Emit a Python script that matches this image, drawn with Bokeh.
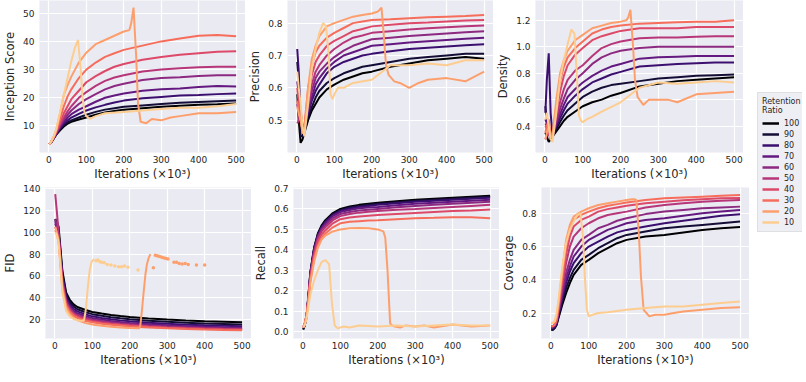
from bokeh.plotting import figure
from bokeh.layouts import row, column
from bokeh.models import Range1d, FixedTicker, PrintfTickFormatter, Legend, LegendItem
from bokeh.embed import file_html
from bokeh.resources import INLINE

# ---------------- data ----------------
RATIOS = ["100", "90", "80", "70", "60", "50", "40", "30", "20", "10"]
COLORS = ['#000003', '#140D35', '#3B0F6F', '#63197F', '#8C2980',
          '#B63679', '#DD4968', '#F66E5B', '#FD9F6C', '#FDCD90']
XTICKS = [0, 100, 200, 300, 400, 500]

XA = [1, 5, 10, 15, 20, 30, 40, 50, 60, 80, 100, 125, 150, 175, 200, 250, 300, 350, 400, 450, 500]
X20 = [1, 5, 10, 15, 20, 30, 40, 50, 60, 80, 100, 125, 150, 175, 200, 215, 220, 226, 233, 238,
       245, 260, 275, 300, 325, 350, 400, 450, 500]
X10 = [1, 5, 10, 15, 20, 30, 40, 50, 60, 70, 78, 85, 90, 95, 100, 110, 125, 150, 200, 250,
       300, 350, 400, 450, 500]

# Inception Score
IS_100 = [3.5, 4.0, 5.0, 6.0, 7.0, 8.5, 9.8, 10.8, 11.5, 12.3, 13.0, 14.0, 14.8, 15.3, 15.8, 16.3, 16.8, 17.2, 17.5, 17.7, 18.0]
IS_90 = [3.5, 4.0, 5.0, 6.0, 7.0, 8.8, 10.2, 11.3, 12.0, 13.0, 14.0, 15.0, 15.8, 16.3, 16.8, 17.3, 17.8, 18.2, 18.5, 18.8, 19.0]
IS_80 = [3.5, 4.0, 5.0, 6.1, 7.2, 9.2, 10.8, 12.0, 13.0, 14.3, 15.5, 16.6, 17.5, 18.3, 19.0, 19.8, 20.3, 20.8, 21.0, 21.3, 21.5]
IS_70 = [3.5, 4.0, 5.1, 6.2, 7.4, 9.6, 11.5, 13.0, 14.2, 15.8, 17.0, 18.6, 20.0, 20.8, 21.5, 22.5, 23.0, 23.3, 23.8, 24.2, 24.0]
IS_60 = [3.5, 4.0, 5.1, 6.3, 7.6, 10.0, 12.3, 14.0, 15.5, 17.8, 19.5, 21.3, 23.0, 24.2, 25.0, 26.3, 27.0, 27.3, 27.7, 28.0, 28.0]
IS_50 = [3.5, 4.0, 5.2, 6.4, 7.8, 10.5, 13.0, 15.2, 17.0, 20.0, 22.0, 24.2, 26.0, 27.2, 28.0, 29.3, 30.0, 30.5, 30.8, 31.0, 31.0]
IS_40 = [3.5, 4.0, 5.2, 6.5, 8.0, 11.2, 14.5, 17.0, 19.5, 22.5, 25.5, 27.7, 29.5, 31.0, 32.0, 33.5, 34.5, 35.3, 35.8, 36.3, 36.5]
IS_30 = [3.5, 4.1, 5.3, 6.7, 8.3, 12.5, 17.0, 20.5, 23.0, 27.0, 30.0, 32.5, 34.5, 35.8, 37.0, 38.5, 40.0, 41.0, 42.0, 42.3, 41.8]
IS_20 = [3.5, 4.1, 5.4, 6.8, 8.8, 14.5, 21.0, 24.5, 27.5, 32.5, 36.0, 39.0, 40.5, 42.0, 43.5, 44.0, 46.5, 52.0, 35.0, 18.0,
         11.5, 11.0, 12.5, 12.0, 13.0, 13.5, 14.5, 14.5, 15.0]
IS_10 = [3.5, 4.2, 5.5, 7.0, 9.0, 15.0, 21.0, 27.0, 33.0, 38.0, 40.5, 30.0, 20.0, 15.0, 13.5, 12.5, 13.5, 14.5, 15.0, 15.5,
         16.0, 16.5, 16.5, 17.0, 17.8]

# Precision
PR_100 = [0.58, 0.50, 0.43, 0.44, 0.46, 0.50, 0.53, 0.55, 0.57, 0.595, 0.61, 0.625, 0.635, 0.645, 0.65, 0.665, 0.675, 0.685, 0.69, 0.695, 0.69]
PR_90 = [0.68, 0.62, 0.45, 0.45, 0.47, 0.51, 0.54, 0.57, 0.59, 0.615, 0.63, 0.645, 0.655, 0.665, 0.67, 0.68, 0.69, 0.695, 0.70, 0.705, 0.705]
PR_80 = [0.72, 0.65, 0.50, 0.47, 0.48, 0.52, 0.56, 0.59, 0.61, 0.645, 0.665, 0.68, 0.69, 0.70, 0.705, 0.713, 0.72, 0.724, 0.728, 0.732, 0.735]
PR_70 = [0.62, 0.58, 0.52, 0.48, 0.48, 0.53, 0.57, 0.61, 0.63, 0.66, 0.68, 0.70, 0.71, 0.72, 0.73, 0.735, 0.74, 0.744, 0.748, 0.752, 0.755]
PR_60 = [0.55, 0.52, 0.50, 0.48, 0.48, 0.54, 0.59, 0.63, 0.65, 0.675, 0.695, 0.715, 0.73, 0.74, 0.75, 0.755, 0.76, 0.764, 0.768, 0.772, 0.775]
PR_50 = [0.49, 0.50, 0.53, 0.48, 0.48, 0.55, 0.61, 0.65, 0.67, 0.70, 0.72, 0.74, 0.755, 0.762, 0.77, 0.775, 0.78, 0.784, 0.787, 0.79, 0.793]
PR_40 = [0.60, 0.55, 0.50, 0.47, 0.48, 0.57, 0.64, 0.68, 0.70, 0.73, 0.745, 0.76, 0.775, 0.782, 0.79, 0.795, 0.80, 0.802, 0.805, 0.808, 0.81]
PR_30 = [0.56, 0.53, 0.50, 0.47, 0.48, 0.60, 0.67, 0.71, 0.73, 0.755, 0.77, 0.785, 0.80, 0.805, 0.81, 0.812, 0.815, 0.818, 0.82, 0.822, 0.825]
PR_20 = [0.54, 0.52, 0.50, 0.46, 0.46, 0.60, 0.69, 0.73, 0.76, 0.79, 0.80, 0.81, 0.82, 0.825, 0.83, 0.835, 0.84, 0.848, 0.75, 0.67,
         0.64, 0.62, 0.615, 0.60, 0.615, 0.625, 0.63, 0.62, 0.65]
PR_10 = [0.65, 0.60, 0.55, 0.48, 0.45, 0.55, 0.66, 0.72, 0.77, 0.80, 0.79, 0.70, 0.58, 0.565, 0.58, 0.60, 0.60, 0.615, 0.625, 0.67,
         0.67, 0.675, 0.67, 0.685, 0.685]

# Density
DE_100 = [0.35, 0.32, 0.28, 0.30, 0.32, 0.36, 0.40, 0.44, 0.47, 0.51, 0.55, 0.58, 0.60, 0.63, 0.65, 0.70, 0.72, 0.74, 0.75, 0.76, 0.77]
DE_90 = [0.55, 0.45, 0.35, 0.30, 0.32, 0.38, 0.43, 0.48, 0.52, 0.57, 0.62, 0.66, 0.69, 0.71, 0.72, 0.74, 0.76, 0.77, 0.78, 0.785, 0.79]
DE_80 = [0.50, 0.75, 0.95, 0.50, 0.33, 0.40, 0.46, 0.52, 0.57, 0.63, 0.68, 0.73, 0.76, 0.79, 0.81, 0.85, 0.86, 0.87, 0.875, 0.88, 0.88]
DE_70 = [0.45, 0.42, 0.38, 0.32, 0.33, 0.41, 0.49, 0.56, 0.62, 0.68, 0.73, 0.78, 0.82, 0.85, 0.87, 0.91, 0.92, 0.925, 0.93, 0.93, 0.93]
DE_60 = [0.42, 0.40, 0.36, 0.30, 0.33, 0.43, 0.53, 0.61, 0.68, 0.75, 0.80, 0.87, 0.92, 0.95, 0.97, 0.99, 1.00, 1.00, 1.00, 1.00, 1.00]
DE_50 = [0.30, 0.33, 0.36, 0.32, 0.34, 0.46, 0.58, 0.68, 0.75, 0.82, 0.86, 0.93, 0.99, 1.02, 1.04, 1.065, 1.07, 1.07, 1.075, 1.08, 1.08]
DE_40 = [0.40, 0.38, 0.35, 0.30, 0.33, 0.50, 0.66, 0.78, 0.86, 0.94, 0.99, 1.05, 1.08, 1.10, 1.12, 1.14, 1.14, 1.14, 1.15, 1.15, 1.15]
DE_30 = [0.35, 0.40, 0.45, 0.33, 0.34, 0.56, 0.74, 0.85, 0.92, 0.99, 1.04, 1.10, 1.13, 1.15, 1.16, 1.175, 1.18, 1.185, 1.19, 1.19, 1.20]
DE_20 = [0.30, 0.35, 0.40, 0.32, 0.32, 0.60, 0.80, 0.90, 0.97, 1.05, 1.09, 1.14, 1.16, 1.18, 1.19, 1.20, 1.22, 1.28, 1.00, 0.75,
         0.62, 0.56, 0.60, 0.60, 0.60, 0.58, 0.64, 0.65, 0.66]
DE_10 = [0.45, 0.50, 0.40, 0.30, 0.28, 0.50, 0.75, 0.90, 1.02, 1.13, 1.10, 0.75, 0.48, 0.44, 0.43, 0.45, 0.47, 0.51, 0.58, 0.69,
         0.73, 0.72, 0.73, 0.74, 0.73]

# FID
FID_100 = [112, 110, 105, 85, 65, 45, 38, 34, 31.5, 29, 27, 25.5, 24.2, 23.2, 22.3, 21, 20, 19.2, 18.5, 18, 17.5]
FID_90 = [112, 108, 100, 82, 62, 43, 36, 32, 29.5, 27, 25, 23.5, 22.2, 21.2, 20.4, 19, 18, 17.2, 16.5, 16, 15.5]
FID_80 = [110, 105, 98, 80, 60, 41, 34, 30, 27.5, 25, 23, 21.5, 20.3, 19.3, 18.5, 17.2, 16.2, 15.4, 14.8, 14.3, 14]
FID_70 = [108, 103, 96, 78, 58, 39, 32, 28, 26, 23.3, 21.5, 20, 18.8, 17.8, 17, 15.8, 14.8, 14, 13.4, 13, 12.8]
FID_60 = [112, 106, 95, 76, 56, 37, 30.5, 26.5, 24.5, 22, 20.2, 18.7, 17.5, 16.6, 15.9, 14.7, 13.8, 13.1, 12.5, 12.1, 11.8]
FID_50 = [135, 120, 100, 75, 55, 36, 29.5, 25.5, 23.5, 21, 19.2, 17.8, 16.7, 15.8, 15.1, 14, 13.1, 12.4, 11.9, 11.5, 11.2]
FID_40 = [105, 100, 94, 74, 53, 34.5, 28, 24.5, 22.5, 20, 18.3, 17, 16, 15.2, 14.5, 13.4, 12.6, 12, 11.5, 11.1, 10.8]
FID_30 = [102, 98, 92, 72, 51, 33, 27, 23.5, 21.5, 19, 17.5, 16.2, 15.2, 14.5, 13.8, 12.8, 12, 11.4, 10.9, 10.5, 10.2]
FID_20_X = [1, 5, 10, 15, 20, 30, 40, 50, 60, 80, 100, 125, 150, 175, 200, 225, 228, 233, 237, 242, 246, 250, 255]
FID_20 = [105, 100, 92, 70, 48, 31, 25, 21.5, 19.5, 17, 15.5, 14.3, 13.5, 12.8, 12.3, 12, 14, 30, 45, 62, 71, 76, 80]
FID_20_DOT_X = [263, 268, 272, 277, 282, 287, 292, 297, 302, 318, 325, 332, 340, 348, 356, 378, 400]
FID_20_DOT = [67.5, 79, 78.5, 78, 77.5, 77, 76.5, 76, 75.5, 72.5, 72.5, 71.5, 71, 71.5, 70.5, 70, 70]
FID_10_X = [1, 5, 10, 15, 20, 30, 40, 50, 60, 70, 78, 83, 88, 93, 98, 105]
FID_10 = [100, 98, 90, 68, 45, 28, 23, 20.5, 19.5, 19, 19.5, 30, 50, 65, 73, 75.5]
FID_10_DOT_X = [110, 115, 120, 125, 132, 140, 150, 160, 170, 178, 186, 195, 222]
FID_10_DOT = [74, 74.5, 73, 72.5, 72, 70.5, 70, 69, 68.5, 68.5, 69, 68, 65.5]

# Recall
RE_100 = [0.01, 0.03, 0.08, 0.18, 0.29, 0.41, 0.48, 0.52, 0.545, 0.58, 0.60, 0.612, 0.62, 0.625, 0.63, 0.638, 0.645, 0.65, 0.655, 0.66, 0.665]
RE_90 = [0.01, 0.03, 0.08, 0.18, 0.29, 0.41, 0.475, 0.515, 0.54, 0.575, 0.595, 0.607, 0.615, 0.62, 0.625, 0.633, 0.64, 0.645, 0.65, 0.655, 0.66]
RE_80 = [0.02, 0.03, 0.07, 0.17, 0.28, 0.40, 0.47, 0.51, 0.535, 0.57, 0.59, 0.602, 0.61, 0.615, 0.62, 0.628, 0.635, 0.64, 0.645, 0.65, 0.655]
RE_70 = [0.02, 0.03, 0.07, 0.17, 0.28, 0.40, 0.465, 0.505, 0.53, 0.565, 0.585, 0.595, 0.603, 0.607, 0.61, 0.618, 0.625, 0.63, 0.635, 0.64, 0.645]
RE_60 = [0.02, 0.04, 0.08, 0.17, 0.28, 0.39, 0.46, 0.50, 0.52, 0.555, 0.575, 0.585, 0.592, 0.596, 0.60, 0.608, 0.615, 0.62, 0.625, 0.63, 0.635]
RE_50 = [0.02, 0.04, 0.08, 0.17, 0.27, 0.385, 0.45, 0.49, 0.51, 0.545, 0.565, 0.575, 0.582, 0.586, 0.59, 0.596, 0.60, 0.605, 0.61, 0.615, 0.62]
RE_40 = [0.02, 0.04, 0.08, 0.16, 0.26, 0.37, 0.44, 0.475, 0.495, 0.53, 0.55, 0.558, 0.563, 0.567, 0.57, 0.575, 0.58, 0.585, 0.59, 0.593, 0.597]
RE_30 = [0.02, 0.04, 0.08, 0.16, 0.25, 0.36, 0.42, 0.46, 0.48, 0.51, 0.53, 0.537, 0.54, 0.543, 0.545, 0.55, 0.555, 0.557, 0.56, 0.56, 0.555]
RE_20 = [0.02, 0.04, 0.08, 0.15, 0.24, 0.34, 0.41, 0.45, 0.47, 0.49, 0.50, 0.505, 0.507, 0.505, 0.50, 0.49, 0.46, 0.30, 0.04, 0.03,
         0.025, 0.02, 0.03, 0.025, 0.03, 0.02, 0.035, 0.025, 0.03]
RE_10 = [0.02, 0.03, 0.06, 0.12, 0.18, 0.25, 0.30, 0.34, 0.35, 0.33, 0.13, 0.03, 0.02, 0.015, 0.02, 0.025, 0.02, 0.03, 0.025, 0.03,
         0.025, 0.03, 0.035, 0.03, 0.03]

# Coverage
CO_100 = [0.10, 0.10, 0.11, 0.13, 0.17, 0.25, 0.32, 0.38, 0.43, 0.49, 0.52, 0.56, 0.59, 0.62, 0.64, 0.66, 0.67, 0.685, 0.70, 0.71, 0.717]
CO_90 = [0.10, 0.10, 0.11, 0.13, 0.18, 0.27, 0.35, 0.41, 0.46, 0.52, 0.55, 0.59, 0.62, 0.65, 0.67, 0.69, 0.71, 0.72, 0.73, 0.74, 0.75]
CO_80 = [0.11, 0.11, 0.12, 0.14, 0.19, 0.29, 0.38, 0.45, 0.50, 0.56, 0.60, 0.63, 0.66, 0.685, 0.70, 0.72, 0.74, 0.755, 0.77, 0.785, 0.794]
CO_70 = [0.11, 0.11, 0.12, 0.14, 0.20, 0.31, 0.41, 0.48, 0.54, 0.60, 0.64, 0.67, 0.70, 0.72, 0.74, 0.76, 0.77, 0.785, 0.80, 0.81, 0.82]
CO_60 = [0.12, 0.12, 0.13, 0.15, 0.21, 0.33, 0.44, 0.52, 0.58, 0.64, 0.67, 0.71, 0.73, 0.755, 0.77, 0.795, 0.81, 0.82, 0.83, 0.835, 0.84]
CO_50 = [0.12, 0.12, 0.13, 0.15, 0.22, 0.36, 0.50, 0.60, 0.66, 0.71, 0.74, 0.77, 0.79, 0.80, 0.81, 0.835, 0.85, 0.86, 0.87, 0.875, 0.88]
CO_40 = [0.12, 0.12, 0.13, 0.16, 0.23, 0.39, 0.55, 0.66, 0.72, 0.76, 0.78, 0.81, 0.825, 0.835, 0.845, 0.86, 0.87, 0.878, 0.885, 0.89, 0.892]
CO_30 = [0.12, 0.12, 0.13, 0.16, 0.24, 0.42, 0.60, 0.70, 0.76, 0.79, 0.81, 0.83, 0.845, 0.855, 0.865, 0.88, 0.89, 0.895, 0.90, 0.905, 0.91]
CO_20 = [0.14, 0.14, 0.15, 0.18, 0.26, 0.45, 0.64, 0.73, 0.78, 0.81, 0.83, 0.85, 0.86, 0.87, 0.88, 0.885, 0.885, 0.88, 0.65, 0.42,
         0.22, 0.18, 0.19, 0.19, 0.20, 0.21, 0.22, 0.23, 0.235]
CO_10 = [0.14, 0.14, 0.15, 0.20, 0.28, 0.48, 0.62, 0.70, 0.75, 0.79, 0.80, 0.65, 0.40, 0.22, 0.18, 0.19, 0.20, 0.205, 0.22, 0.23,
         0.24, 0.24, 0.25, 0.26, 0.27]

# ---------------- styling helpers ----------------
FONT = "DejaVu Sans"
BG = "#EAEAF2"
TXT = "#262626"
XR = (-25, 525)


def make_fig(ylabel, yr, yticks, fmt, fw, fh, bl, bt, bb):
    p = figure(frame_width=fw, frame_height=fh, x_range=Range1d(*XR), y_range=Range1d(*yr),
               output_backend="svg", toolbar_location=None,
               min_border_left=bl, min_border_right=0, min_border_top=bt, min_border_bottom=bb,
               background_fill_color=BG, border_fill_color="white", outline_line_color=None)
    p.xaxis.ticker = FixedTicker(ticks=XTICKS)
    p.yaxis.ticker = FixedTicker(ticks=yticks)
    if fmt:
        p.yaxis.formatter = PrintfTickFormatter(format=fmt)
    p.xaxis.axis_label = "Iterations (×10³)"
    p.yaxis.axis_label = ylabel
    for ax in p.axis:
        ax.axis_line_color = None
        ax.major_tick_line_color = None
        ax.minor_tick_line_color = None
        ax.major_tick_out = 0
        ax.major_tick_in = 0
        ax.minor_tick_out = 0
        ax.minor_tick_in = 0
        ax.major_label_text_font = FONT
        ax.major_label_text_font_size = "9px"
        ax.major_label_text_color = TXT
        ax.axis_label_text_font = FONT
        ax.axis_label_text_font_size = "11.5px"
        ax.axis_label_text_font_style = "normal"
        ax.axis_label_text_color = TXT
    p.xaxis.major_label_standoff = 3
    p.xaxis.axis_label_standoff = 1
    p.yaxis.major_label_standoff = 5
    p.yaxis.axis_label_standoff = 3
    p.grid.grid_line_color = "white"
    p.grid.grid_line_width = 1.2
    return p


def add_series(p, regular, s20, s10, x20=X20, x10=X10):
    for i, ys in enumerate(regular):
        p.line(XA, ys, line_color=COLORS[i], line_width=2)
    if s20 is not None:
        p.line(x20, s20, line_color=COLORS[8], line_width=2)
    if s10 is not None:
        p.line(x10, s10, line_color=COLORS[9], line_width=2)


FW1, FW2, FW3 = 206, 206, 208
FH1, FH2 = 152, 151

p1 = make_fig("Inception Score", (0.6, 54.5), [10, 20, 30, 40, 50], None, FW1, FH1, 35, 0, 29)
add_series(p1, [IS_100, IS_90, IS_80, IS_70, IS_60, IS_50, IS_40, IS_30], IS_20, IS_10)

p2 = make_fig("Precision", (0.40, 0.87), [0.5, 0.6, 0.7, 0.8], "%.1f", FW2, FH1, 41, 0, 29)
add_series(p2, [PR_100, PR_90, PR_80, PR_70, PR_60, PR_50, PR_40, PR_30], PR_20, PR_10)

p3 = make_fig("Density", (0.2, 1.35), [0.4, 0.6, 0.8, 1.0, 1.2], "%.1f", FW3, FH1, 41, 0, 29)
add_series(p3, [DE_100, DE_90, DE_80, DE_70, DE_60, DE_50, DE_40, DE_30], DE_20, DE_10)

p4 = make_fig("FID", (2.7, 141.0), [20, 40, 60, 80, 100, 120, 140], None, FW1, FH2, 35, 4, 29)
add_series(p4, [FID_100, FID_90, FID_80, FID_70, FID_60, FID_50, FID_40, FID_30],
           FID_20, FID_10, x20=FID_20_X, x10=FID_10_X)
p4.scatter(FID_20_DOT_X, FID_20_DOT, size=3.5, fill_color=COLORS[8], line_color=None)
p4.scatter(FID_10_DOT_X, FID_10_DOT, size=3.5, fill_color=COLORS[9], line_color=None)

p5 = make_fig("Recall", (-0.034, 0.705), [0.0, 0.1, 0.2, 0.3, 0.4, 0.5, 0.6, 0.7], "%.1f", FW2, FH2, 41, 4, 29)
add_series(p5, [RE_100, RE_90, RE_80, RE_70, RE_60, RE_50, RE_40, RE_30], RE_20, RE_10)

p6 = make_fig("Coverage", (0.047, 0.955), [0.2, 0.4, 0.6, 0.8], "%.1f", FW3, FH2, 41, 4, 29)
add_series(p6, [CO_100, CO_90, CO_80, CO_70, CO_60, CO_50, CO_40, CO_30], CO_20, CO_10)

# legend panel
pl = figure(width=53, height=365, x_range=Range1d(0, 1), y_range=Range1d(0, 1),
            x_axis_type=None, y_axis_type=None, output_backend="svg", toolbar_location=None,
            min_border=0, outline_line_color=None, background_fill_color="white")
pl.grid.visible = False
items = []
for i, lab in enumerate(RATIOS):
    r = pl.line([-5, -4], [-5, -4], line_color=COLORS[i], line_width=2.5)
    items.append(LegendItem(label=lab, renderers=[r]))
leg = Legend(items=items, location=(8, 133), title="Retention\nRatio",
             title_text_font=FONT, title_text_font_size="8px", title_text_color=TXT,
             title_text_font_style="normal", title_standoff=3,
             label_text_font=FONT, label_text_font_size="8px", label_text_color=TXT,
             glyph_width=17, glyph_height=10, label_height=10, label_standoff=5,
             spacing=1, padding=4, margin=0,
             background_fill_color=BG, background_fill_alpha=0.8,
             border_line_color="#d0d0d0", border_line_width=1)
pl.add_layout(leg, "center")

layout = row(column(row(p1, p2, p3), row(p4, p5, p6)), pl)
open("out.html", "w").write(file_html(layout, INLINE))
